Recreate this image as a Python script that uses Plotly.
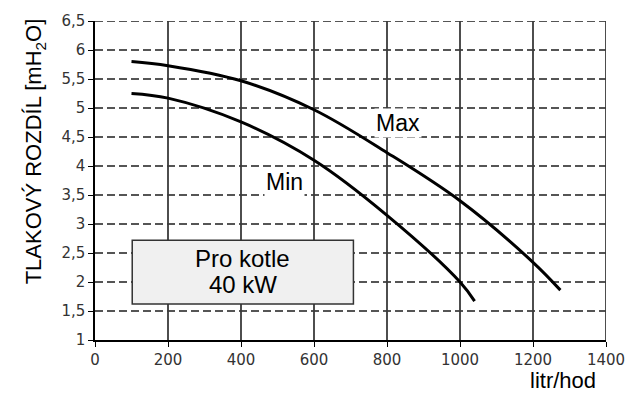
import plotly.graph_objects as go

flow_max = [100, 200, 400, 600, 800, 1000, 1200, 1275]
dp_max = [5.80, 5.73, 5.47, 4.97, 4.23, 3.40, 2.34, 1.86]
flow_min = [100, 200, 400, 600, 800, 1000, 1040]
dp_min = [5.25, 5.17, 4.76, 4.10, 3.15, 2.00, 1.67]

x_ticks = [0, 200, 400, 600, 800, 1000, 1200, 1400]
y_ticks = [1, 1.5, 2, 2.5, 3, 3.5, 4, 4.5, 5, 5.5, 6, 6.5]
y_tick_labels = ["1", "1,5", "2", "2,5", "3", "3,5", "4", "4,5", "5", "5,5", "6", "6,5"]

fig = go.Figure()

# dashed horizontal grid
for yv in y_ticks[1:]:
    fig.add_shape(type="line", xref="x", yref="y", x0=0, x1=1400, y0=yv, y1=yv,
                  line=dict(color="#555555", width=1.8, dash="8px,4px"), layer="below")
# solid vertical grid
for xv in x_ticks[1:]:
    fig.add_shape(type="line", xref="x", yref="y", x0=xv, x1=xv, y0=1, y1=6.5,
                  line=dict(color="#3a3a3a", width=1.8), layer="below")

fig.add_trace(go.Scatter(x=flow_max, y=dp_max, mode="lines",
                         line=dict(color="black", width=3, shape="spline"), showlegend=False))
fig.add_trace(go.Scatter(x=flow_min, y=dp_min, mode="lines",
                         line=dict(color="black", width=3, shape="spline"), showlegend=False))

fig.add_annotation(x=830, y=4.74, text="Max", showarrow=False, bgcolor="white",
                   font=dict(family="Liberation Sans, Arial", size=23, color="black"))
fig.add_annotation(x=520, y=3.73, text="Min", showarrow=False, bgcolor="white",
                   font=dict(family="Liberation Sans, Arial", size=23, color="black"))

# info box
fig.add_shape(type="rect", xref="x", yref="y", x0=102, x1=708, y0=1.62, y1=2.72,
              fillcolor="#f0f0f0", line=dict(color="#333333", width=1.5), layer="above")
fig.add_annotation(x=405, y=2.41, text="Pro kotle", showarrow=False,
                   font=dict(family="Liberation Sans, Arial", size=24, color="black"))
fig.add_annotation(x=405, y=1.96, text="40 kW", showarrow=False,
                   font=dict(family="Liberation Sans, Arial", size=24, color="black"))

fig.add_annotation(xref="paper", yref="paper", x=0.916, y=-0.127, text="litr/hod",
                   showarrow=False, xanchor="center", yanchor="middle",
                   font=dict(family="Liberation Sans, Arial", size=22, color="black"))

# y-axis title
fig.add_annotation(xref="paper", yref="paper", x=-0.117, y=0.592,
                   text="TLAKOVÝ ROZDÍL [mH<sub>2</sub>O]", textangle=-90,
                   showarrow=False, xanchor="center", yanchor="middle",
                   font=dict(family="Liberation Sans, Arial", size=22, color="black"))

fig.update_layout(
    width=640, height=394,
    margin=dict(l=95, r=34, t=19, b=54),
    plot_bgcolor="white", paper_bgcolor="white",
    xaxis=dict(range=[0, 1400], tickvals=x_ticks, showgrid=False, zeroline=False,
               showline=True, linecolor="black", linewidth=1.5,
               ticks="outside", ticklen=5, tickcolor="black",
               tickfont=dict(family="DejaVu Sans, Verdana", size=15, color="#333333")),
    yaxis=dict(range=[1, 6.5], tickvals=y_ticks, ticktext=y_tick_labels,
               showgrid=False, zeroline=False,
               showline=True, linecolor="black", linewidth=1.5,
               ticks="outside", ticklen=5, tickcolor="black",
               tickfont=dict(family="DejaVu Sans, Verdana", size=15, color="#333333")),
)

fig.write_html("out.html")
